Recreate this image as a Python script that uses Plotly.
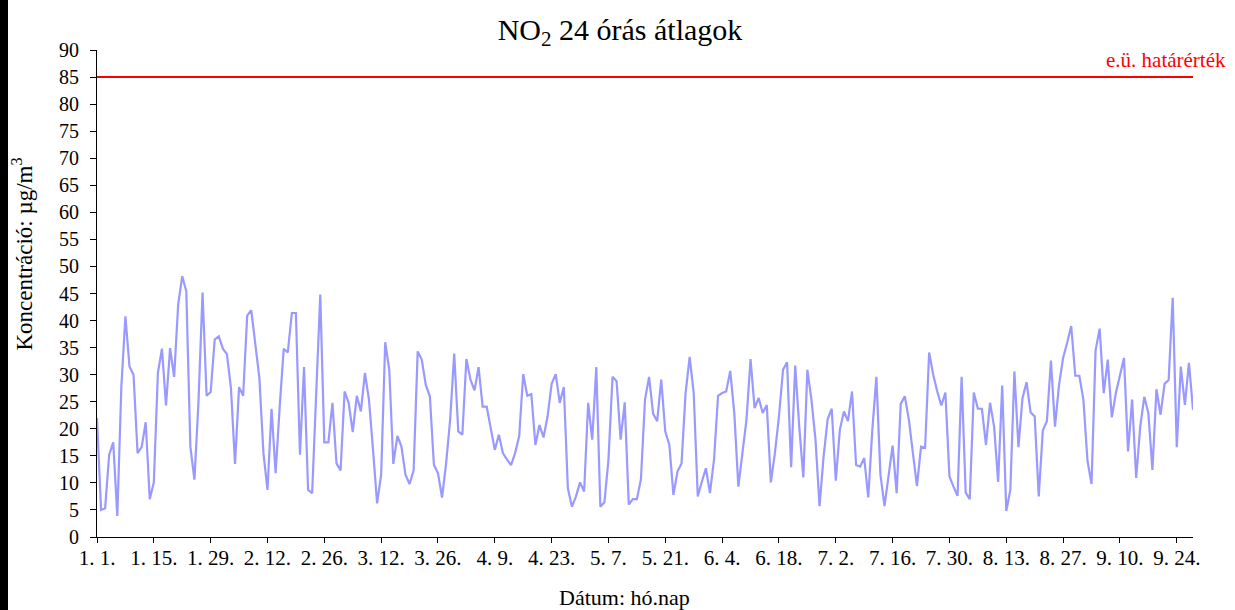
import pandas as pd
import plotly.graph_objects as go

# Daily NO2 24-hour averages (µg/m3), one list per month
jan = [22.0, 5.0, 5.3, 15.2, 17.5, 3.9, 27.8, 40.8, 31.5, 30.0,
       15.5, 16.6, 21.2, 7.0, 10.1, 30.3, 34.8, 24.3, 34.9, 29.6,
       43.0, 48.2, 45.4, 16.7, 10.6, 25.0, 45.2, 26.1, 26.8, 36.5, 37.1]
feb = [34.8, 33.8, 27.5, 13.5, 27.7, 26.1, 40.9, 41.9, 35.6,
       29.4, 15.5, 8.7, 23.7, 11.8, 24.0, 34.8, 34.1, 41.4, 41.4,
       15.2, 31.4, 8.7, 8.1, 26.0, 44.8, 17.5, 17.5, 24.8]
mar = [13.6, 12.3, 26.9, 24.8, 19.4, 26.1, 23.2, 30.3, 25.4, 16.1, 6.2,
       11.5, 36.0, 30.9, 13.5, 18.7, 16.7, 11.5, 9.8, 12.3, 34.3,
       32.8, 28.1, 26.0, 13.3, 11.8, 7.3, 13.6, 21.7, 33.9, 19.5]
apr = [18.9, 32.9, 29.1, 27.1, 31.4, 24.1, 24.1, 20.4, 16.1, 18.9,
       15.5, 14.3, 13.3, 15.5, 18.6, 30.1, 26.1, 26.4, 17.0, 20.7,
       18.4, 22.3, 28.3, 30.1, 24.8, 27.7, 9.0, 5.6, 7.5, 10.1]
may = [8.4, 24.8, 18.0, 31.4, 5.6, 6.4, 14.3, 29.6, 28.8, 18.0,
       24.9, 6.0, 7.0, 7.0, 10.7, 25.4, 29.6, 22.8, 21.4, 29.1,
       19.5, 17.0, 7.8, 12.1, 13.6, 26.6, 33.3, 26.6, 7.5, 10.2, 12.7]
jun = [8.1, 14.3, 26.1, 26.6, 26.9, 30.7, 22.9, 9.3, 15.5,
       21.7, 32.9, 23.8, 25.7, 22.9, 24.4, 10.1, 15.5, 22.3, 30.9,
       32.3, 12.9, 31.7, 20.4, 11.0, 30.9, 25.4, 18.0, 5.7, 14.9, 21.8]
jul = [23.7, 10.4, 19.8, 23.2, 21.4, 26.9, 13.3, 13.0, 14.6,
       7.3, 19.8, 29.6, 11.5, 5.7, 11.3, 16.9, 8.1, 24.6, 26.0,
       21.7, 15.5, 9.4, 16.7, 16.5, 34.1, 30.0, 26.9, 24.3, 26.7,
       11.2, 9.3]
aug = [7.6, 29.6, 8.2, 7.0, 26.7, 23.7, 23.7, 17.0,
       24.8, 20.4, 10.2, 28.0, 4.8, 8.7, 30.6, 16.6, 25.7, 28.6,
       23.0, 22.3, 7.5, 19.7, 21.4, 32.6, 20.4, 28.1, 33.1, 35.9,
       39.0, 29.8, 29.8]
sep = [25.4, 14.1, 9.8, 34.5, 38.5, 26.6, 32.8,
       22.1, 26.6, 30.0, 33.1, 15.8, 25.4, 10.9, 20.4, 25.9, 22.9,
       12.4, 27.3, 22.6, 28.3, 29.0, 44.2, 16.6, 31.5, 24.4, 32.2, 23.5]

# Health limit value (e.ü. határérték)
limit_value = 85

# Date-axis tick labels (every 14 days, hó. nap.)
tick_labels = ["1. 1.", "1. 15.", "1. 29.", "2. 12.", "2. 26.", "3. 12.",
               "3. 26.", "4. 9.", "4. 23.", "5. 7.", "5. 21.", "6. 4.",
               "6. 18.", "7. 2.", "7. 16.", "7. 30.", "8. 13.", "8. 27.",
               "9. 10.", "9. 24."]

values = jan + feb + mar + apr + may + jun + jul + aug + sep
dates = pd.date_range("2010-01-01", periods=len(values), freq="D")
tick_dates = pd.date_range("2010-01-01", periods=len(tick_labels), freq="14D")

FONT = "Liberation Serif"

fig = go.Figure()
fig.add_trace(go.Scatter(
    x=dates, y=values, mode="lines",
    line=dict(color="#9999FF", width=2.2),
    hoverinfo="x+y", showlegend=False,
))

# Limit line
fig.add_shape(type="line", xref="paper", x0=0, x1=1, yref="y",
              y0=limit_value, y1=limit_value,
              line=dict(color="#FF0000", width=2))
fig.add_annotation(text="e.ü. határérték", xref="paper", x=1.032,
                   xanchor="right", yref="y", y=limit_value, yanchor="bottom",
                   yshift=3, showarrow=False,
                   font=dict(family=FONT, size=21, color="#FF0000"))

# Axis titles
fig.add_annotation(text="Koncentráció: µg/m<sup>3</sup>", xref="paper",
                   x=-0.0675, yref="paper", y=0.58, textangle=-90,
                   xanchor="center", yanchor="middle", showarrow=False,
                   font=dict(family=FONT, size=23, color="black"))
fig.add_annotation(text="Dátum: hó.nap", xref="paper", x=0.481,
                   yref="paper", y=-0.125, xanchor="center",
                   yanchor="middle", showarrow=False,
                   font=dict(family=FONT, size=22, color="black"))

# Dark edge strip along the left side of the canvas
fig.add_shape(type="rect", xref="paper", x0=-0.0885, x1=-0.0812,
              yref="paper", y0=-0.16, y1=1.11, line=dict(width=0),
              fillcolor="black", layer="above")

fig.update_layout(
    width=1235, height=610,
    margin=dict(l=97, r=42, t=50, b=73),
    paper_bgcolor="white", plot_bgcolor="white",
    title=dict(text="NO<sub>2</sub> 24 órás átlagok", x=0.502,
               xref="container", xanchor="center", y=0.952,
               yref="container", yanchor="middle",
               font=dict(family=FONT, size=30, color="black")),
    font=dict(family=FONT, size=20, color="black"),
)
fig.update_xaxes(
    range=[dates[0], dates[-1]], tickvals=tick_dates, ticktext=tick_labels,
    showgrid=False, zeroline=False, showline=True, linecolor="black",
    linewidth=1, ticks="outside", ticklen=5, tickcolor="black",
    ticklabelstandoff=-3,
    tickfont=dict(family=FONT, size=21, color="black"),
)
fig.update_yaxes(
    range=[0, 90], dtick=5, tick0=0, showgrid=False, zeroline=False,
    showline=True, linecolor="black", linewidth=1, ticks="outside",
    ticklen=6, tickcolor="black", ticklabelstandoff=7,
    tickfont=dict(family=FONT, size=20, color="black"),
)

fig.write_html("out.html")
